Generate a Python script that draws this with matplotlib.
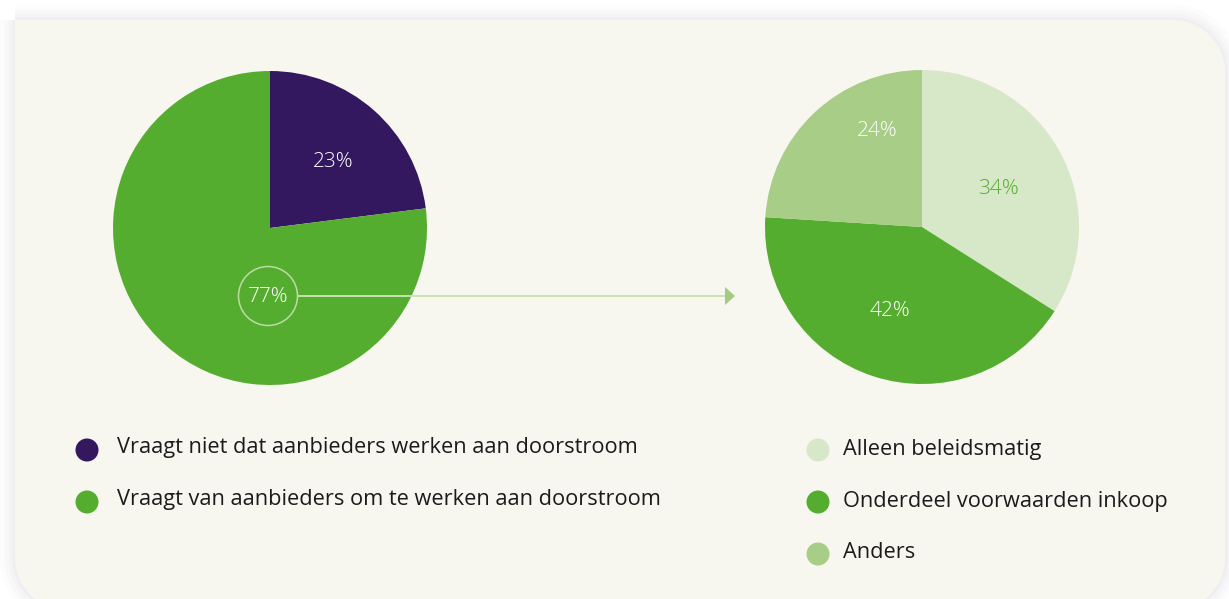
import matplotlib
matplotlib.use("Agg")
import matplotlib.pyplot as plt
from matplotlib.patches import Circle, Polygon, PathPatch
from matplotlib.path import Path
import numpy as np

# --- data ---
left_labels = ["Vraagt niet dat aanbieders werken aan doorstroom",
               "Vraagt van aanbieders om te werken aan doorstroom"]
left_values = [23, 77]
right_labels = ["Alleen beleidsmatig", "Onderdeel voorwaarden inkoop", "Anders"]
right_values = [34, 42, 24]

PURPLE = "#33185f"
GREEN = "#55ad30"
LIGHT = "#d6e8c7"
MID = "#a8cd86"
PANEL = "#f7f6ef"
TEXT = "#1b1b1b"

W, H = 1229, 599
plt.rcParams["font.family"] = ["Open Sans", "DejaVu Sans"]

fig = plt.figure(figsize=(W / 100, H / 100), dpi=100)
fig.patch.set_facecolor("white")
ax = fig.add_axes([0, 0, 1, 1])


def Y(y):
    # pixel row -> data y
    return H - y


def panel_path(x0, y0, x1, y1, r):
    """box in data coords; top-left corner square, other corners rounded."""
    pts = [(x0, y1)]  # top-left, square
    t = np.linspace(np.pi / 2, 0, 20)
    pts += list(zip(x1 - r + r * np.cos(t), y1 - r + r * np.sin(t)))  # top-right
    t = np.linspace(0, -np.pi / 2, 20)
    pts += list(zip(x1 - r + r * np.cos(t), y0 + r + r * np.sin(t)))  # bottom-right
    t = np.linspace(-np.pi / 2, -np.pi, 20)
    pts += list(zip(x0 + r + r * np.cos(t), y0 + r + r * np.sin(t)))  # bottom-left
    pts.append((x0, y1))
    return Path(pts, closed=True)


shape = panel_path(15, Y(610), 1225, Y(20), 52)
for lw, a in zip([22, 15, 9, 4], [0.018, 0.022, 0.028, 0.035]):
    ax.add_patch(PathPatch(shape, fc="none", ec="#7c7c98", lw=lw, alpha=a,
                           joinstyle="round", zorder=0))
ax.add_patch(PathPatch(shape, fc=PANEL, ec="none", zorder=1))

# left pie
r = 157
lc = (270, Y(228))
ax.pie(left_values, colors=[PURPLE, GREEN], startangle=90, counterclock=False,
       center=lc, radius=r, frame=True, wedgeprops=dict(linewidth=0, zorder=2))
ax.text(333, Y(162), f"{left_values[0]}%", color="white", fontsize=15, fontweight="light",
        ha="center", va="center", zorder=4)
ax.text(268, Y(297), f"{left_values[1]}%", color="white", fontsize=15, fontweight="light",
        ha="center", va="center", zorder=4)
ax.add_patch(Circle((268, Y(296)), 29.5, fc="none", ec="#bcdca4", lw=1.1, zorder=3))

# arrow to right pie
ax.plot([298, 726], [Y(296), Y(296)], color="#c6e1b2", lw=1.4, zorder=3,
        solid_capstyle="butt")
ax.add_patch(Polygon([(725, Y(287)), (725, Y(305)), (735, Y(296))],
                     closed=True, fc="#a3cb80", ec="none", zorder=3))

# right pie
rc = (922, Y(227))
ax.pie(right_values, colors=[LIGHT, GREEN, MID], startangle=90, counterclock=False,
       center=rc, radius=r, frame=True, wedgeprops=dict(linewidth=0, zorder=2))
right_txt_pos = [(998, 189), (890, 311), (877, 131)]
right_txt_col = [GREEN, "white", "white"]
for v, (tx, ty), c in zip(right_values, right_txt_pos, right_txt_col):
    ax.text(tx, Y(ty), f"{v}%", color=c, fontsize=15, fontweight="light",
            ha="center", va="center", zorder=4)

ax.set_xlim(0, W)
ax.set_ylim(0, H)
ax.set_aspect("equal")
ax.axis("off")

# legends
for i, (lab, col) in enumerate(zip(left_labels, [PURPLE, GREEN])):
    yy = 450 + i * 52
    ax.add_patch(Circle((87, Y(yy)), 11.5, fc=col, ec="none", zorder=3))
    ax.text(117, Y(yy - 2), lab, color=TEXT, fontsize=15.7, ha="left", va="center", zorder=4)

for i, (lab, col) in enumerate(zip(right_labels, [LIGHT, GREEN, MID])):
    yy = 450 + i * 52
    ax.add_patch(Circle((818, Y(yy)), 11.5, fc=col, ec="none", zorder=3))
    ax.text(843, Y(yy - 1), lab, color=TEXT, fontsize=15.7, ha="left", va="center", zorder=4)

fig.savefig("out.png", dpi=100, facecolor="white")
